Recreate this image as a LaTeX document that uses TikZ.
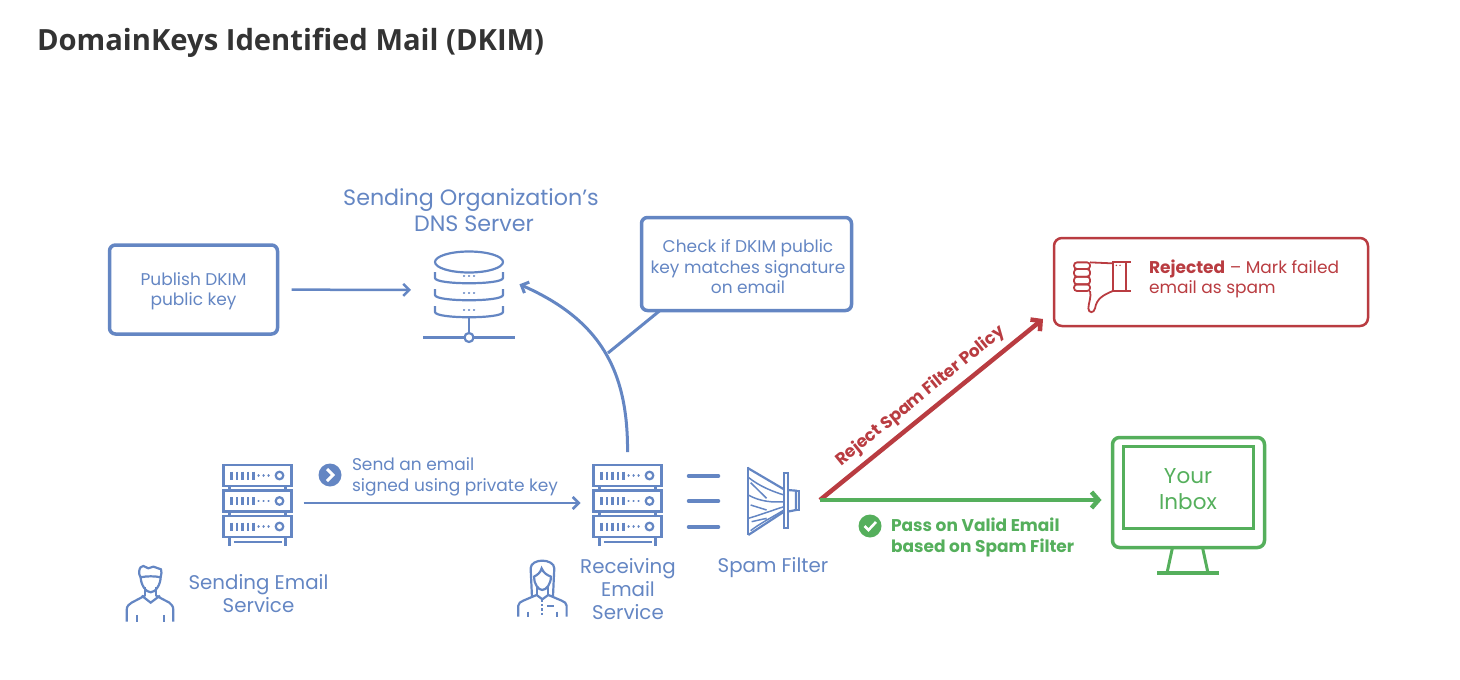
\documentclass[tikz,border=0pt]{standalone}
\usepackage{fontspec}
\setmainfont{Poppins}
\newfontfamily\titlefont{Open Sans}
\usetikzlibrary{arrows.meta}
\definecolor{dkblue}{HTML}{6486C3}
\definecolor{dkred}{HTML}{B93C41}
\definecolor{dkgreen}{HTML}{55AF5C}
\definecolor{dktitle}{HTML}{333333}

\begin{document}
\begin{tikzpicture}[
  x=1pt, y=-1pt,
  every node/.style={inner sep=0pt, outer sep=0pt},
  bluetxt/.style={text=dkblue, align=center, font=\fontsize{17}{20.5}\selectfont},
  headtxt/.style={text=dkblue, align=center, font=\fontsize{22.2}{26}\selectfont},
  icontxt/.style={text=dkblue, align=center, font=\fontsize{19.8}{23}\selectfont},
  msgbox/.style={draw=dkblue, line width=3.5pt, rounded corners=6pt},
  iconspot/.style={minimum width=#1},
  icon/.style={draw=dkblue, line width=2.2pt},
  badge/.style={circle, minimum size=23pt},
  blueline/.style={draw=dkblue, line width=2.5pt, -{Straight Barb[length=6pt,width=12pt]}},
  server/.pic={
    \foreach \ry in {-38,-12.5,13} {
      \draw[icon] (-34,\ry) rectangle (34,\ry+21);
      \foreach \sx in {-26,-20.5,-15,-9.5,-4}
        \draw[icon] (\sx,\ry+6.5) -- (\sx,\ry+14.5);
      \foreach \sx in {1,6,11}
        \draw[icon, line width=2.4pt, line cap=round] (\sx,\ry+10.5) -- (\sx+.1,\ry+10.5);
      \draw[icon] (22,\ry+10.5) circle (3.8);
    }
    \foreach \sx in {-28,28} {
      \draw[icon] (\sx,-17) -- (\sx,-12.5);
      \draw[icon] (\sx,8.5) -- (\sx,13);
      \draw[icon] (\sx,34) -- (\sx,43);
    }
    \draw[icon] (-24,39) -- (24,39);
  },
  dnsicon/.pic={
    \draw[icon] (0,-28) ellipse (34 and 10.5);
    \foreach \ry in {-13,4,21} {
      \draw[icon] (-34,\ry-5) -- (-34,\ry+1) .. controls (-34,\ry+8) and (34,\ry+8) .. (34,\ry+1) -- (34,\ry-5);
      \foreach \sx in {-5,0,5}
        \draw[icon, line width=2.4pt, line cap=round] (\sx,\ry-1) -- (\sx+.1,\ry-1);
    }
    \draw[icon, line width=2.6pt] (0,28) -- (0,42);
    \draw[icon] (-46,47.5) -- (-5,47.5) (5,47.5) -- (46,47.5);
    \draw[icon] (0,47.5) circle (4.5);
  },
  manicon/.pic={
    \begin{scope}[x=.3333pt, y=-.3333pt, shift={(-120,-430)}]
      \draw[icon] (50,515) -- (50,480) .. controls (50,468) and (58,462) .. (65,458) -- (105,437)
        (190,515) -- (190,480) .. controls (190,468) and (183,462) .. (178,458) -- (138,437);
      \draw[icon] (95,437) -- (122,458) -- (150,437);
      \draw[icon] (80,495) -- (80,515) (163,495) -- (163,515);
      \draw[icon] (105,412) -- (105,437) (138,412) -- (138,437);
      \draw[icon] (92,380) .. controls (92,405) and (108,427) .. (122,427) .. controls (136,427) and (152,405) .. (152,380);
      \draw[icon, line join=round] (92,382) .. controls (84,372) and (88,355) .. (92,352) -- (100,348) -- (115,355) -- (130,350) -- (153,358) .. controls (155,365) and (155,372) .. (152,382) .. controls (135,378) and (110,378) .. cycle;
    \end{scope}
  },
  womanicon/.pic={
    \begin{scope}[x=.3333pt, y=-.3333pt, shift={(-97,-430)}]
      \draw[icon] (25,530) -- (25,497) .. controls (25,490) and (32,485) .. (40,482) -- (80,465)
        (170,530) -- (170,497) .. controls (170,490) and (163,485) .. (155,482) -- (115,465);
      \draw[icon] (80,465) -- (97,478) -- (115,465);
      \draw[icon, dotted] (97,480) -- (97,526);
      \draw[icon] (112,497) -- (132,497);
      \draw[icon] (55,515) -- (55,530) (140,515) -- (140,530);
      \draw[icon] (66,470) -- (62,385) .. controls (62,370) and (80,362) .. (97,362) .. controls (114,362) and (133,370) .. (133,385) -- (129,470);
      \draw[icon] (72,410) .. controls (72,432) and (85,450) .. (97,450) .. controls (109,450) and (123,432) .. (123,410) .. controls (110,405) and (100,398) .. (95,385) .. controls (92,398) and (82,405) .. cycle;
      \draw[icon] (82,442) -- (82,465) (113,442) -- (113,465);
    \end{scope}
  },
  funnelicon/.pic={
    \begin{scope}[x=.3333pt, y=-.3333pt, shift={(-790,-183)}]
      \draw[icon] (715,80) -- (715,285);
      \draw[icon] (822,100) rectangle (833,265);
      \draw[icon] (833,150) -- (858,152) -- (858,210) -- (833,215);
      \draw[icon] (858,152) -- (867,152) -- (867,210) -- (858,210);
      \draw[icon] (715,85) -- (822,148) (715,285) -- (822,215);
      \draw[icon, line width=1.5pt] (715,112) .. controls (750,140) and (790,155) .. (822,165)
        (722,128) -- (770,175)
        (715,165) .. controls (750,185) and (790,188) .. (822,185)
        (722,195) -- (770,210)
        (715,235) .. controls (750,225) and (790,210) .. (822,200)
        (725,245) -- (770,235)
        (722,272) .. controls (750,250) and (790,230) .. (822,210);
    \end{scope}
  },
  thumbicon/.pic={
    \begin{scope}[x=.3333pt, y=-.3333pt, shift={(-185,-170)}, draw=dkred]
      \draw[draw=dkred, line width=1.8pt] (218,97) rectangle (258,183);
      \draw[draw=dkred, line width=1.8pt] (258,97) -- (272,97) (258,183) -- (272,183);
      \foreach \fy/\fh in {97/20,117/23,140/23,163/20}
        \draw[draw=dkred, line width=1.8pt, rounded corners=3pt] (102,\fy) rectangle (150,\fy+\fh);
      \draw[draw=dkred, line width=1.8pt] (150,97) -- (218,100);
      \draw[draw=dkred, line width=1.8pt] (150,183) .. controls (155,200) and (145,220) .. (145,235)
        .. controls (145,250) and (162,250) .. (165,235) .. controls (170,205) and (190,195) .. (218,183);
      \fill[dkred] (229,106) circle (2.5) (240,106) circle (2.5);
    \end{scope}
  },
]
\useasboundingbox (0,0) rectangle (1460,680);

\node[anchor=west, text=dktitle, font=\titlefont\fontsize{29.2}{34}\selectfont\bfseries] (title) at (37,43)
  {DomainKeys Identified Mail (DKIM)};

% DNS side (top)
\node[msgbox, minimum width=168pt, minimum height=89pt] (publish) at (193.5,289.5) {};
\node[bluetxt] (publishtxt) at (193.5,291) {Publish DKIM\\public key};
\node[iconspot=68pt, minimum height=100pt] (dns) at (469,290) {};
\pic at (dns.center) {dnsicon};
\node[headtxt] (dnslabel) at (471,210) {Sending Organization's\\\hspace*{6pt}DNS Server};
\node[msgbox, minimum width=210pt, minimum height=93pt] (check) at (746.5,264) {};
\node[bluetxt] (checktxt) at (748,267) {Check if DKIM public\\key matches signature\\on email};

\draw[blueline, shorten <=14pt, shorten >=24pt] (publish) -- (dns);

% Servers and filter (bottom)
\node[iconspot=68pt, minimum height=86pt] (sendsrv) at (257.5,503) {};
\pic at (sendsrv.center) {server};
\node[iconspot=68pt, minimum height=86pt] (recvsrv) at (627.5,503) {};
\pic at (recvsrv.center) {server};
\node[iconspot=52pt, minimum height=68pt] (spam) at (773.3,501) {};
\pic at (spam.center) {funnelicon};
\coordinate (split) at (820,500);

\pic at (150,593.3) {manicon};
\pic at (542.3,583.3) {womanicon};

\node[icontxt] (sendlabel) at (258.5,594) {Sending Email\\Service};
\node[icontxt] (recvlabel) at (628,589) {Receiving\\Email\\Service};
\node[icontxt] (spamlabel) at (773,567.5) {Spam Filter};

\draw[blueline, shorten <=12pt, shorten >=13pt] (sendsrv) -- (recvsrv);

\node[badge, fill=dkblue, minimum size=23pt] (sendbadge) at (330,475) {};
\draw[white, line width=3pt] ([shift={(-3,-6)}]sendbadge.center) -- ([shift={(3,0)}]sendbadge.center) -- ([shift={(-3,6)}]sendbadge.center);
\node[bluetxt, anchor=west, align=left] (sendnote) at (352,477) {Send an email\\signed using private key};

% The lookup, from receiver to DNS
\draw[blueline, line width=3pt, shorten <=8pt, shorten >=18pt] (recvsrv.north)
  .. controls (628,370) and (600,320) .. ([yshift=13pt]dns.east);
\coordinate (tap) at (608,353);
\draw[draw=dkblue, line width=3pt] ([xshift=-86.5pt]check.south) -- (tap);

% Three rules between receiver and filter
\foreach \ry/\rn in {476/ruleone,501/ruletwo,527/rulethree} {
  \coordinate (\rn) at (703.5,\ry);
  \draw[draw=dkblue, line width=3.5pt, line cap=round] ([xshift=-15pt]\rn) -- ([xshift=15pt]\rn);
}

% Rejected path
\node[draw=dkred, line width=2.5pt, rounded corners=8pt, minimum width=314pt, minimum height=88pt] (rejected) at (1211,282) {};
\pic at (1101.7,286.7) {thumbicon};
\node[anchor=west, align=left, text=dkred, font=\fontsize{17}{20.5}\selectfont] (rejtxt) at (1149,279)
  {\textbf{Rejected} -- Mark failed\\email as spam};
\draw[draw=dkred, line width=4.5pt, -{Straight Barb[length=7pt,width=15pt]}] (split)
  -- node[sloped, above=8pt, pos=.5, text=dkred, font=\fontsize{16.9}{18}\selectfont\bfseries] (rejlabel) {Reject Spam Filter Policy}
  ([xshift=-11pt,yshift=7pt]rejected.south west);

% Passed path
\node[draw=dkgreen, line width=3.5pt, rounded corners=7pt, minimum width=152pt, minimum height=110pt] (inbox) at (1188.5,492.5) {};
\node[draw=dkgreen, line width=3.5pt, minimum width=130pt, minimum height=82pt] (screen) at (1188.5,487.5) {};
\node[align=center, text=dkgreen, font=\fontsize{21.5}{26}\selectfont] (screentxt) at (1188,489.5) {Your\\Inbox};
\node[minimum width=62pt, minimum height=1pt] (stand) at (1188,573) {};
\draw[draw=dkgreen, line width=3.5pt] (stand.west) -- (stand.east);
\draw[draw=dkgreen, line width=3pt] ([xshift=-16pt]inbox.south) -- ([xshift=-21pt]stand.center)
  ([xshift=14pt]inbox.south) -- ([xshift=20pt]stand.center);
\draw[draw=dkgreen, line width=4.5pt, -{Straight Barb[length=7pt,width=16pt]}, shorten >=11pt] (split) -- (split -| inbox.west);
\node[badge, fill=dkgreen] (passbadge) at (870,526) {};
\draw[white, line width=2.6pt] ([shift={(-5.5,0)}]passbadge.center) -- ([shift={(-1.5,4)}]passbadge.center) -- ([shift={(6,-4)}]passbadge.center);
\node[anchor=west, align=left, text=dkgreen, font=\fontsize{17}{20.5}\selectfont\bfseries] (passnote) at (891,537.5)
  {Pass on Valid Email\\based on Spam Filter};

\end{tikzpicture}
\end{document}
